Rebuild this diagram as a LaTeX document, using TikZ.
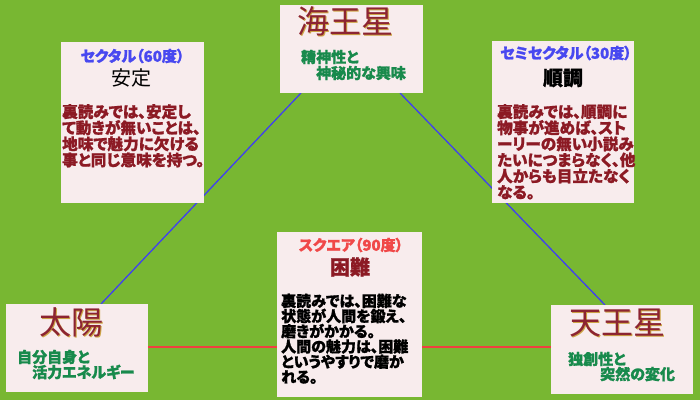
\documentclass[tikz,border=0pt]{standalone}
\usepackage{fontspec}
\setmainfont{Noto Sans CJK JP}[RawFeature=+palt,BoldFeatures={FakeBold=1.2}]
\usetikzlibrary{calc}
\definecolor{bggreen}{RGB}{120,183,50}
\definecolor{boxfill}{RGB}{248,236,237}
\definecolor{lineblue}{RGB}{64,64,240}
\definecolor{linered}{RGB}{240,64,64}
\definecolor{bodyred}{RGB}{140,26,36}
\definecolor{titlered}{RGB}{140,36,50}
\definecolor{titlegold}{RGB}{205,165,70}
\definecolor{txtgreen}{RGB}{24,138,76}
\definecolor{headblue}{RGB}{72,72,240}
\definecolor{headred}{RGB}{240,72,72}
\pgfdeclarelayer{bg}\pgfdeclarelayer{lines}\pgfsetlayers{bg,lines,main}
\tikzset{
  box/.style={draw=none,fill=boxfill,inner sep=0pt,outer sep=0pt},
  title/.style={inner sep=0pt,font=\fontsize{32}{34}\selectfont,text=titlered},
  titleshadow/.style={inner sep=0pt,font=\fontsize{32}{34}\selectfont,text=titlegold},
  green/.style={inner sep=0pt,anchor=west,font=\fontsize{15}{16}\selectfont\bfseries,text=txtgreen},
  head/.style={inner sep=0pt,font=\fontsize{15}{16}\selectfont\bfseries},
  kw/.style={inner sep=0pt,font=\fontsize{20}{22}\selectfont},
  body/.style={inner sep=0pt,anchor=north west,align=left,font=\fontsize{15.6}{16.1}\selectfont\bfseries},
  bluelink/.style={draw=lineblue,line width=1.3pt},
  redlink/.style={draw=linered,line width=1.3pt}
}
\begin{document}
\begin{tikzpicture}[x=1pt,y=-1pt]
\begin{pgfonlayer}{bg}
\fill[bggreen] (0,0) rectangle (700,400);
\end{pgfonlayer}
\useasboundingbox (0,0) rectangle (700,400);
% boxes
\node[box,minimum width=143pt,minimum height=88pt] (kai) at (351.5,49) {};
\node[box,minimum width=143pt,minimum height=161pt] (sex) at (132.5,122.5) {};
\node[box,minimum width=142pt,minimum height=162pt] (semi) at (563,122) {};
\node[box,minimum width=145pt,minimum height=165pt] (sq) at (349.5,314.5) {};
\node[box,minimum width=142pt,minimum height=88pt] (tai) at (77,348) {};
\node[box,minimum width=142pt,minimum height=89pt] (ten) at (622,349.5) {};
% connectors
\begin{pgfonlayer}{lines}
\draw[bluelink] ([xshift=21pt]kai.south west) -- ([xshift=95pt]tai.north west);
\draw[bluelink] ([xshift=120pt]kai.south west) -- ([xshift=54pt]ten.north west);
\draw[redlink] ([yshift=1pt]tai.east) coordinate (r1) -- (r1 -| ten.west);
\end{pgfonlayer}
% Neptune
\node[titleshadow] (kaitS) at (346,22) {海王星};
\node[title] (kait) at (345,21) {海王星};
\node[green] (kai1) at (301,57) {精神性と};
\node[green] (kai2) at (316,73) {神秘的な興味};
% Sun
\node[titleshadow] (taitS) at (72,323) {太陽};
\node[title] (tait) at (71,322) {太陽};
\node[green] (tai1) at (17,357) {自分自身と};
\node[green] (tai2) at (32,372) {活力エネルギー};
% Uranus
\node[titleshadow] (tentS) at (618,324) {天王星};
\node[title] (tent) at (617,323) {天王星};
\node[green] (ten1) at (568,359) {独創性と};
\node[green] (ten2) at (600,374) {突然の変化};
% Sextile
\node[head,text=headblue] (sexh) at (132.5,56) {セクタル（60度）};
\node[kw,text=black] (sexk) at (131,78) {安定};
\node[body,text=bodyred] (sexb) at (62,104) {裏読みでは、安定し\\て動きが無いことは、\\地味で魅力に欠ける\\事と同じ意味を持つ。};
% Semi-sextile
\node[head,text=headblue] (semih) at (566,53) {セミセクタル（30度）};
\node[kw,text=black,font=\fontsize{20}{22}\selectfont\bfseries] (semik) at (563,78) {順調};
\node[body,text=bodyred] (semib) at (497,104) {裏読みでは、順調に\\物事が進めば、スト\\ーリーの無い小説み\\たいにつまらなく、他\\人からも目立たなく\\なる。};
% Square
\node[head,text=headred] (sqh) at (351,245) {スクエア（90度）};
\node[kw,text=bodyred,font=\fontsize{20}{22}\selectfont\bfseries] (sqk) at (350,267) {困難};
\node[body,text=black,font=\fontsize{15}{15.2}\selectfont\bfseries] (sqb) at (281,293.5) {裏読みでは、困難な\\状態が人間を鍛え、\\磨きがかかる。\\人間の魅力は、困難\\というやすりで磨か\\れる。};
\end{tikzpicture}
\end{document}
